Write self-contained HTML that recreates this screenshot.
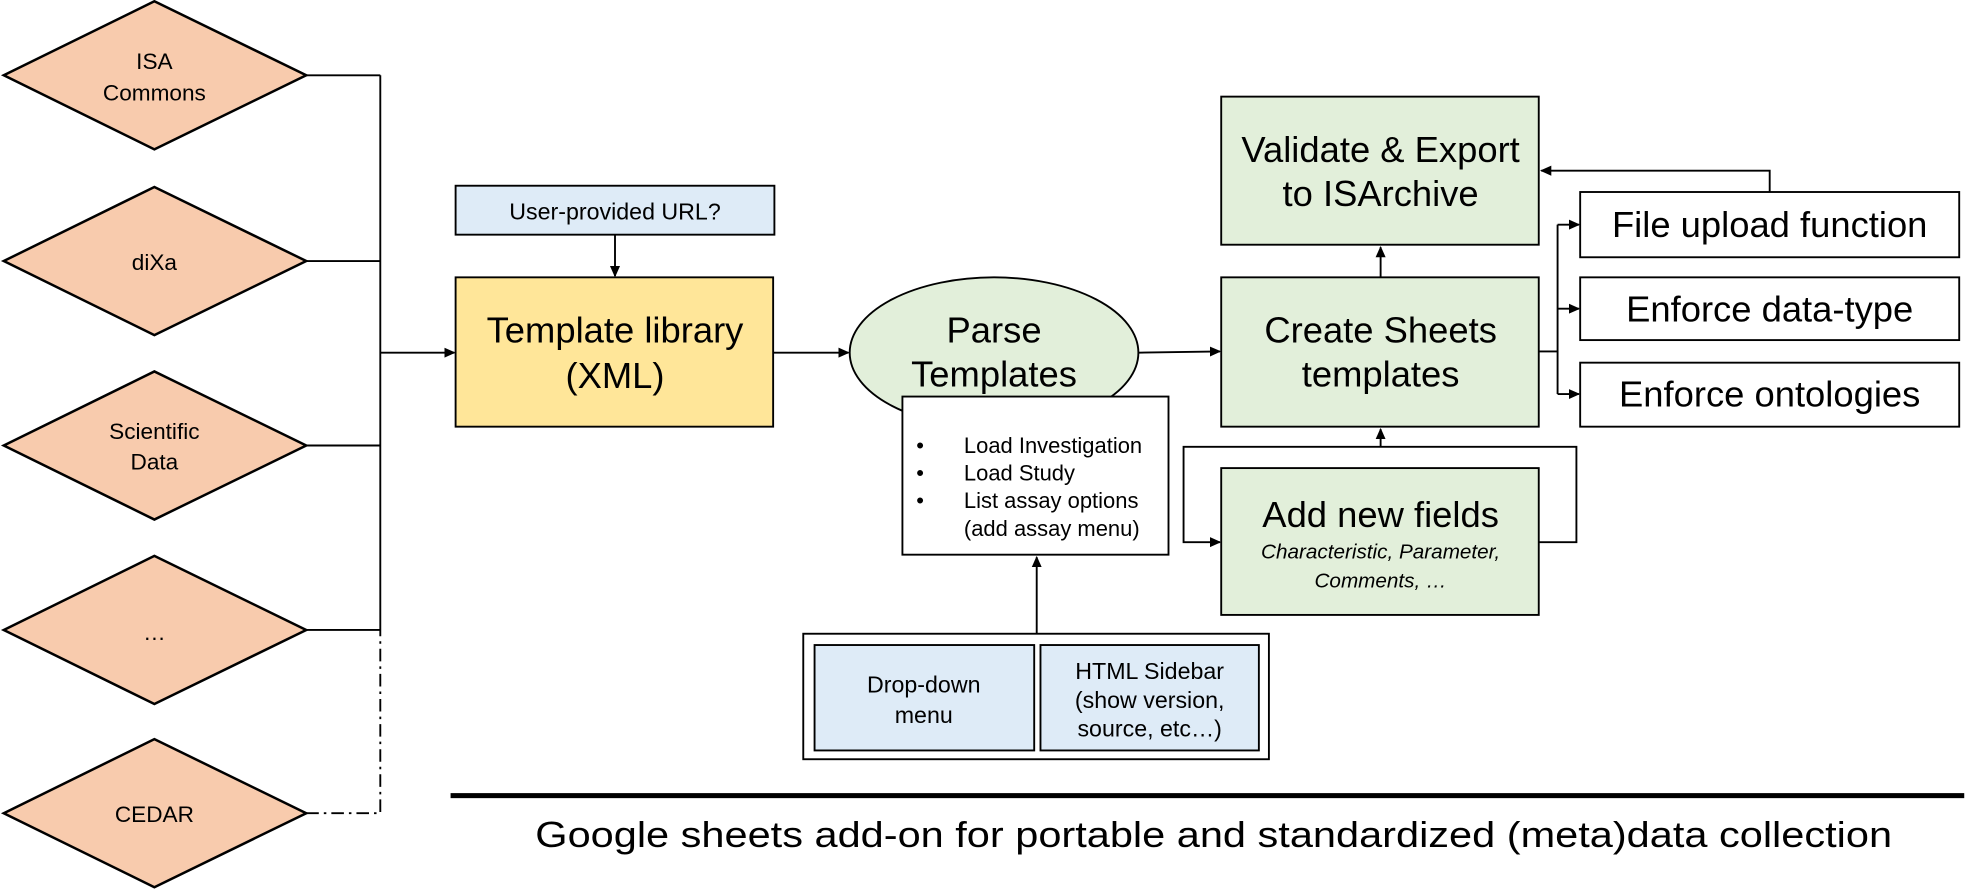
<!DOCTYPE html>
<html><head><meta charset="utf-8"><style>
html,body{margin:0;padding:0;background:#fff}
svg{display:block}
text{font-family:"Liberation Sans",Arial,sans-serif;fill:#000}
</style></head><body>
<svg width="1968" height="891" viewBox="0 0 1568 710" preserveAspectRatio="none" xmlns="http://www.w3.org/2000/svg">
<defs>
<marker id="a" markerWidth="10" markerHeight="10" refX="8" refY="5" orient="auto" markerUnits="userSpaceOnUse">
<path d="M0,1 L9,5 L0,9 z" fill="#000"/></marker>
</defs>
<g stroke="#000" stroke-width="2" fill="#f8cbad">
<polygon points="3,60 123,1 244,60 123,119"/>
<polygon points="3,208 123,149 244,208 123,267"/>
<polygon points="3,355 123,296 244,355 123,414"/>
<polygon points="3,502 123,443 244,502 123,561"/>
<polygon points="3,648 123,589 244,648 123,707"/>
</g>
<g font-size="18" text-anchor="middle">
<text x="123" y="55">ISA</text><text x="123" y="80">Commons</text>
<text x="123" y="215">diXa</text>
<text x="123" y="350">Scientific</text><text x="123" y="374">Data</text>
<text x="123" y="510">…</text>
<text x="123" y="655">CEDAR</text>
</g>
<g stroke="#000" stroke-width="1.5" fill="none">
<path d="M244,60 H303 M244,208 H303 M244,355 H303 M244,502 H303 M303,60 V502"/>
<path d="M244,648 H303 V502" stroke-dasharray="10,4,2,4"/>
<path d="M303,281 H362" marker-end="url(#a)"/>
<path d="M490,187 V220" marker-end="url(#a)"/>
<path d="M616,281 H676" marker-end="url(#a)"/>
<path d="M907,281 L972,280" marker-end="url(#a)"/>
<path d="M826,505 V444" marker-end="url(#a)"/>
<path d="M1100,221 V197" marker-end="url(#a)"/>
<path d="M1100,356 V342" marker-end="url(#a)"/>
<path d="M1226,432 H1256 V356 H943 V432 H972" marker-end="url(#a)"/>
<path d="M1226,280 H1241 M1241,179 V314"/>
<path d="M1241,179 H1258" marker-end="url(#a)"/>
<path d="M1241,246 H1258" marker-end="url(#a)"/>
<path d="M1241,314 H1258" marker-end="url(#a)"/>
<path d="M1410,153 V136 H1228" marker-end="url(#a)"/>
</g>
<g stroke="#000" stroke-width="1.5">
<rect x="363" y="148" width="254" height="39" fill="#deebf7"/>
<rect x="363" y="221" width="253" height="119" fill="#ffe699"/>
<ellipse cx="792" cy="281" rx="115" ry="60" fill="#e2efda"/>
<rect x="719" y="316" width="212" height="126" fill="#fff"/>
<rect x="640" y="505" width="371" height="100" fill="#fff"/>
<rect x="649" y="514" width="175" height="84" fill="#deebf7"/>
<rect x="829" y="514" width="174" height="84" fill="#deebf7"/>
<rect x="973" y="77" width="253" height="118" fill="#e2efda"/>
<rect x="973" y="221" width="253" height="119" fill="#e2efda"/>
<rect x="973" y="373" width="253" height="117" fill="#e2efda"/>
<rect x="1259" y="153" width="302" height="52" fill="#fff"/>
<rect x="1259" y="221" width="302" height="50" fill="#fff"/>
<rect x="1259" y="289" width="302" height="51" fill="#fff"/>
</g>
<rect x="359" y="632" width="1206" height="4" fill="#000"/>
<g text-anchor="middle">
<text x="490" y="175" font-size="18.5">User-provided URL?</text>
<text x="490" y="273" font-size="29">Template library</text>
<text x="490" y="309" font-size="29">(XML)</text>
<text x="792" y="273" font-size="29">Parse</text>
<text x="792" y="308" font-size="29">Templates</text>
<text x="1100" y="129" font-size="29">Validate &amp; Export</text>
<text x="1100" y="164" font-size="29">to ISArchive</text>
<text x="1100" y="273" font-size="29">Create Sheets</text>
<text x="1100" y="308" font-size="29">templates</text>
<text x="1100" y="420" font-size="29">Add new fields</text>
<text x="1100" y="445" font-size="16.5" font-style="italic">Characteristic, Parameter,</text>
<text x="1100" y="468" font-size="16.5" font-style="italic">Comments, …</text>
<text x="1410" y="189" font-size="29">File upload function</text>
<text x="1410" y="256" font-size="29">Enforce data-type</text>
<text x="1410" y="324" font-size="29">Enforce ontologies</text>
<text x="736" y="552" font-size="18.5">Drop-down</text>
<text x="736" y="576" font-size="18.5">menu</text>
<text x="916" y="541" font-size="18.5">HTML Sidebar</text>
<text x="916" y="564" font-size="18.5">(show version,</text>
<text x="916" y="587" font-size="18.5">source, etc…)</text>
<text x="967" y="675" font-size="29" textLength="1081" lengthAdjust="spacingAndGlyphs">Google sheets add-on for portable and standardized (meta)data collection</text>
</g>
<g font-size="17.5">
<text x="730" y="361">•</text><text x="768" y="361">Load Investigation</text>
<text x="730" y="383">•</text><text x="768" y="383">Load Study</text>
<text x="730" y="405">•</text><text x="768" y="405">List assay options</text>
<text x="768" y="427">(add assay menu)</text>
</g>
</svg>
</body></html>
